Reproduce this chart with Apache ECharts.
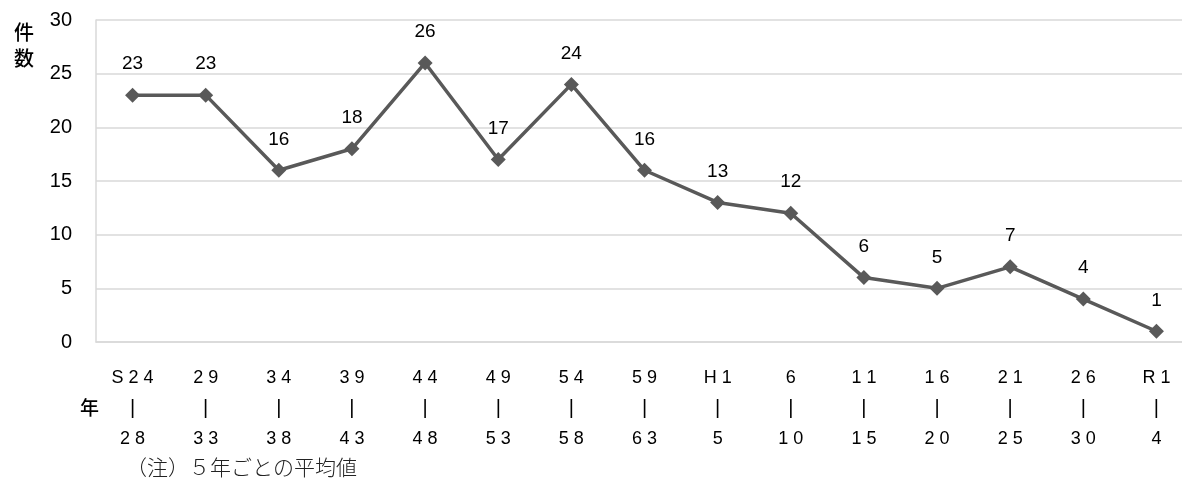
<!DOCTYPE html>
<html>
<head>
<meta charset="utf-8">
<script src="https://cdn.jsdelivr.net/npm/echarts@6/dist/echarts.min.js"></script>
<style>
html,body{margin:0;padding:0;background:#fff;}
#c{width:1182px;height:486px;}
</style>
</head>
<body>
<div id="c"></div>
<script>
// Period start and end years (five-year spans) and the average count per span
const periodStart = ['S24','29','34','39','44','49','54','59','H1','6','11','16','21','26','R1'];
const periodEnd   = ['28','33','38','43','48','53','58','63','5','10','15','20','25','30','4'];
const counts      = [23, 23, 16, 18, 26, 17, 24, 16, 13, 12, 6, 5, 7, 4, 1];
const yTicks = { min: 0, max: 30, interval: 5 };

const NUM_FONT = '"Liberation Sans", Arial, sans-serif';
const CJK_FONT = '"Noto Sans CJK JP", sans-serif';
const spaced = s => s.split('').join(' ');

const chart = echarts.init(document.getElementById('c'));
chart.setOption({
  animation: false,
  grid: { left: 96, top: 20, width: 1097, height: 322, outerBoundsMode: 'none', containLabel: false },
  xAxis: {
    type: 'category',
    data: periodStart,
    boundaryGap: true,
    axisLine: { show: true, lineStyle: { color: '#d9d9d9', width: 1.5 } },
    axisTick: { show: false },
    axisLabel: {
      interval: 0,
      margin: 21,
      formatter: (v, i) => '{n|' + spaced(v) + '}\n{b||}\n{n|' + spaced(periodEnd[i]) + '}',
      rich: {
        n: { color: '#000', fontFamily: NUM_FONT, fontSize: 18, lineHeight: 30.5 },
        b: { color: '#000', fontFamily: NUM_FONT, fontSize: 20, lineHeight: 30.5 }
      }
    }
  },
  yAxis: {
    type: 'value',
    min: yTicks.min, max: yTicks.max, interval: yTicks.interval,
    axisLine: { show: true, lineStyle: { color: '#d9d9d9', width: 1.5 } },
    axisTick: { show: false },
    splitLine: { lineStyle: { color: '#d9d9d9', width: 1.5 } },
    axisLabel: { color: '#000', fontFamily: NUM_FONT, fontSize: 20, margin: 24, padding: [6, 0, 0, 0] }
  },
  graphic: [
    { type: 'text', x: 14, y: 32, style: { text: '件', font: '500 20px ' + CJK_FONT, fill: '#000', verticalAlign: 'middle' } },
    { type: 'text', x: 14, y: 58, style: { text: '数', font: '500 20px ' + CJK_FONT, fill: '#000', verticalAlign: 'middle' } },
    { type: 'text', x: 80, y: 408, style: { text: '年', font: '500 19px ' + CJK_FONT, fill: '#000', verticalAlign: 'middle' } },
    { type: 'text', x: 126, y: 467, style: { text: '（注）５年ごとの平均値', font: '300 21px ' + CJK_FONT, fill: '#222', verticalAlign: 'middle' } }
  ],
  series: [{
    type: 'line',
    data: counts,
    symbol: 'diamond',
    symbolSize: 15,
    lineStyle: { color: '#595959', width: 3.5 },
    itemStyle: { color: '#595959' },
    label: {
      show: true,
      position: 'top',
      distance: 14,
      color: '#000',
      fontFamily: NUM_FONT,
      fontSize: 19
    }
  }]
});
</script>
</body>
</html>
